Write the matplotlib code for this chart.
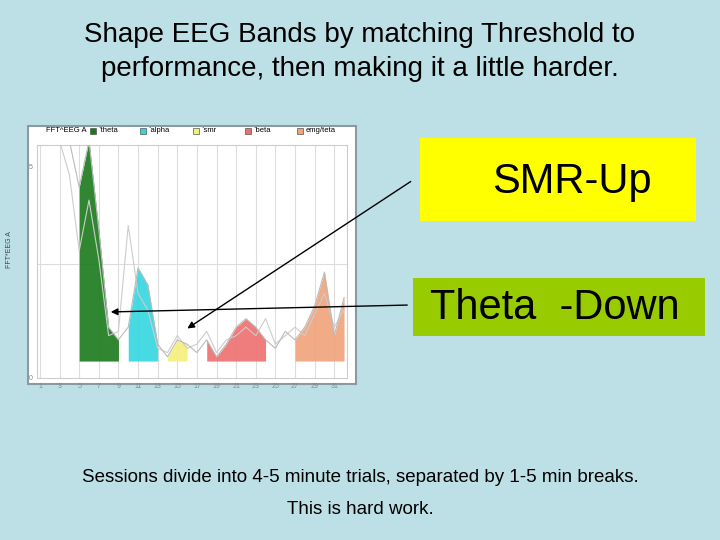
import numpy as np
import matplotlib.pyplot as plt
from matplotlib.patches import Rectangle

plt.rcParams["font.family"] = ["Liberation Sans", "DejaVu Sans"]

# spectrum, frequency bins 1..32
freq = np.arange(1, 33)
power = [5.6, 5.6, 5.6, 5.6, 4.5, 5.6, 3.5, 1.2, 0.9, 1.2, 2.6, 2.2, 0.8, 0.5, 0.9, 0.8,
         0.6, 0.9, 0.5, 0.8, 1.2, 1.4, 1.2, 0.9, 0.7, 1.1, 0.9, 1.2, 1.7, 2.5, 1.0, 1.9]
power_prev = [5.6, 5.6, 5.6, 4.8, 3.0, 4.2, 2.8, 1.0, 1.1, 3.6, 2.0, 1.6, 0.7, 0.6, 1.0, 0.7,
              0.8, 1.1, 0.6, 0.9, 1.0, 1.2, 1.0, 1.4, 0.8, 1.0, 1.2, 1.0, 1.5, 2.0, 1.2, 1.6]
bands = ["`theta", "`alpha", "`smr", "`beta", "emg/teta"]
band_lo = [5, 10, 14, 18, 27]
band_hi = [9, 13, 16, 24, 32]
band_colors = ["#1a7a1a", "#33d6e0", "#f5f07a", "#ee6f6f", "#f0a27a"]
xticks = list(range(1, 32, 2))

bg = "#bde0e6"
fig = plt.figure(figsize=(7.2, 5.4), dpi=100, facecolor=bg)

fig.text(0.5, 0.935, "Shape EEG Bands by matching Threshold to", ha="center", va="center", fontsize=20)
fig.text(0.5, 0.873, "performance, then making it a little harder.", ha="center", va="center", fontsize=20)

# inset frame
fig.patches.append(Rectangle((28 / 720, 1 - 384 / 540), 328 / 720, 258 / 540,
                             transform=fig.transFigure, facecolor="white",
                             edgecolor="#8a9aa0", lw=1.5, zorder=-2))

ax = fig.add_axes([37 / 720, 1 - 378 / 540, 310 / 720, 233 / 540])
ax.set_zorder(2)
ax.set_facecolor("white")
ax.set_xlim(0.7, 32.3)
ax.set_ylim(0, 5.5)
ax.grid(axis="x", color="#dddddd", lw=0.8)
ax.axhline(2.7, color="#dddddd", lw=0.8)
for lo, hi, c in zip(band_lo, band_hi, band_colors):
    m = (freq >= lo) & (freq <= hi)
    ax.fill_between(freq, 0.4, power, where=m, color=c, alpha=0.9, lw=0, zorder=2)
ax.plot(freq, power_prev, color="#cccccc", lw=0.8, zorder=3)
ax.plot(freq, power, color="#bbbbbb", lw=0.8, zorder=3)
ax.set_xticks(xticks)
ax.set_yticks([0, 5])
ax.tick_params(labelsize=5, colors="#888888", length=0)
for s in ax.spines.values():
    s.set_color("#cccccc")
fig.text(10 / 720, 1 - 250 / 540, "FFT*EEG A", rotation=90, fontsize=5, ha="center", va="center",
         color="#444444")

# legend strip
fig.text(46 / 720, 1 - 131 / 540, "FFT^EEG A", fontsize=5.5, va="center")
lx = [90, 140, 193, 245, 297]
for x, lab, c in zip(lx, bands, band_colors):
    fig.patches.append(Rectangle((x / 720, 1 - 134 / 540), 6 / 720, 6 / 540,
                                 transform=fig.transFigure, facecolor=c, edgecolor="#555555", lw=0.5))
    fig.text((x + 9) / 720, 1 - 131 / 540, lab, fontsize=5.5, va="center")

# labels
fig.patches.append(Rectangle((420 / 720, 1 - 221 / 540), 276 / 720, 83 / 540,
                             transform=fig.transFigure, facecolor="#ffff00", edgecolor="none", zorder=-1))
fig.text(572 / 720, 1 - 182 / 540, "SMR-Up", ha="center", va="center", fontsize=30)
fig.patches.append(Rectangle((413 / 720, 1 - 336 / 540), 292 / 720, 58 / 540,
                             transform=fig.transFigure, facecolor="#99cc00", edgecolor="none", zorder=-1))
fig.text(555 / 720, 1 - 308 / 540, "Theta  -Down", ha="center", va="center", fontsize=30)

fig.add_artist(plt.Annotation("", xy=(185 / 720, 1 - 330 / 540), xytext=(413 / 720, 1 - 180 / 540),
                              xycoords="figure fraction", textcoords="figure fraction",
                              arrowprops=dict(arrowstyle="-|>", color="black", lw=1), zorder=5))
fig.add_artist(plt.Annotation("", xy=(108 / 720, 1 - 312 / 540), xytext=(410 / 720, 1 - 305 / 540),
                              xycoords="figure fraction", textcoords="figure fraction",
                              arrowprops=dict(arrowstyle="-|>", color="black", lw=1), zorder=5))

fig.text(0.5, 1 - 477 / 540, "Sessions divide into 4-5 minute trials, separated by 1-5 min breaks.",
         ha="center", va="center", fontsize=13.5)
fig.text(0.5, 1 - 510 / 540, "This is hard work.", ha="center", va="center", fontsize=13.5)

fig.savefig("out.png", dpi=100, facecolor=bg)
